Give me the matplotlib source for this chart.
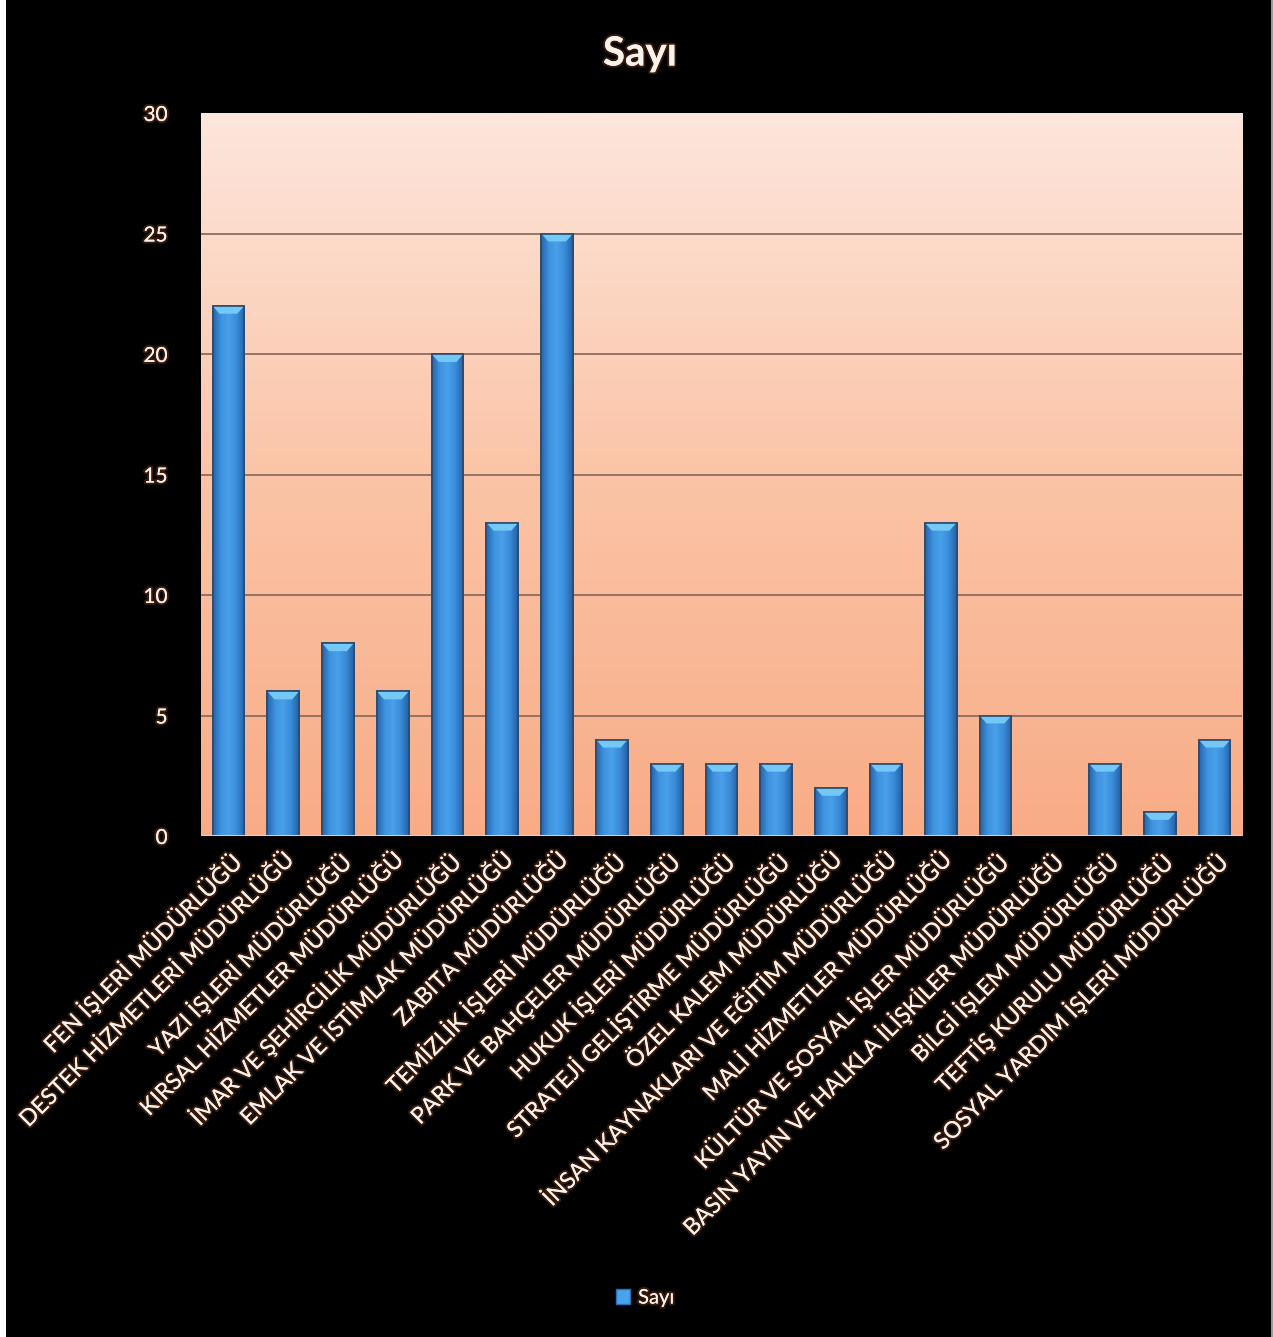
import matplotlib
matplotlib.use("Agg")
import matplotlib.pyplot as plt
import numpy as np
from matplotlib import patheffects as pe
from matplotlib.patches import Polygon, Rectangle
from matplotlib.colors import LinearSegmentedColormap

plt.rcParams['font.family'] = ['Lato', 'DejaVu Sans']

categories = [
    "FEN İŞLERİ MÜDÜRLÜĞÜ",
    "DESTEK HİZMETLERİ MÜDÜRLÜĞÜ",
    "YAZI İŞLERİ MÜDÜRLÜĞÜ",
    "KIRSAL HİZMETLER MÜDÜRLÜĞÜ",
    "İMAR VE ŞEHİRCİLİK MÜDÜRLÜĞÜ",
    "EMLAK VE İSTİMLAK MÜDÜRLÜĞÜ",
    "ZABITA MÜDÜRLÜĞÜ",
    "TEMİZLİK İŞLERİ MÜDÜRLÜĞÜ",
    "PARK VE BAHÇELER MÜDÜRLÜĞÜ",
    "HUKUK İŞLERİ MÜDÜRLÜĞÜ",
    "STRATEJİ GELİŞTİRME MÜDÜRLÜĞÜ",
    "ÖZEL KALEM MÜDÜRLÜĞÜ",
    "İNSAN KAYNAKLARI VE EĞİTİM MÜDÜRLÜĞÜ",
    "MALİ HİZMETLER MÜDÜRLÜĞÜ",
    "KÜLTÜR VE SOSYAL İŞLER MÜDÜRLÜĞÜ",
    "BASIN YAYIN VE HALKLA İLİŞKİLER MÜDÜRLÜĞÜ",
    "BİLGİ İŞLEM MÜDÜRLÜĞÜ",
    "TEFTİŞ KURULU MÜDÜRLÜĞÜ",
    "SOSYAL YARDIM İŞLERİ MÜDÜRLÜĞÜ",
]
sayi = [22, 6, 8, 6, 20, 13, 25, 4, 3, 3, 3, 2, 3, 13, 5, 0, 3, 1, 4]
y_ticks = [0, 5, 10, 15, 20, 25, 30]
series_name = "Sayı"

W, H = 1273, 1337
fig = plt.figure(figsize=(W / 100, H / 100), dpi=100, facecolor="black")

# thin white strip along the left edge, faint grey on the right edge
fig.patches.append(Rectangle((0, 0), 6 / W, 1, transform=fig.transFigure,
                             facecolor="white", edgecolor="none", zorder=-5))
fig.patches.append(Rectangle((1 - 2 / W, 0), 2 / W, 1, transform=fig.transFigure,
                             facecolor="#9a9a9a", edgecolor="none", zorder=-5))

ax = fig.add_axes([201 / W, 1 - 836 / H, (1242 - 201) / W, (836 - 113) / H])
ax.set_facecolor("none")

n = len(categories)
x = np.arange(n)
ax.set_xlim(-0.5, n - 0.5)
ax.set_ylim(0, 30)

# peach vertical gradient in the plot area
bg = LinearSegmentedColormap.from_list("bg", ["#f8ac86", "#fbc4a7", "#fde6dc"])
grad = np.linspace(0, 1, 256).reshape(-1, 1)
ax.imshow(grad, cmap=bg, origin="lower", aspect="auto",
          extent=(-0.5, n - 0.5, 0, 30), zorder=0)

for t in y_ticks[1:-1]:
    ax.axhline(t, color="#8c6d5e", lw=1.3, zorder=1)

glow = [pe.withStroke(linewidth=3, foreground="#3f1d0c", alpha=0.9), pe.Normal()]
txt_col = "#f8f2ee"

# bars with a horizontal blue shading and a light bevelled top
bw = 0.58
bar_cmap = LinearSegmentedColormap.from_list(
    "bar", ["#2566ad", "#3f93df", "#4aa0ea", "#3a8bd8", "#2562a8"])
hgrad = np.linspace(0, 1, 64).reshape(1, -1)
bars = ax.bar(x, sayi, width=bw, facecolor="#3d8fdc",
              edgecolor="#2b4a6e", linewidth=1.2, zorder=3)
cap_h = 0.33
for xi, v, b in zip(x, sayi, bars):
    if v <= 0:
        continue
    im = ax.imshow(hgrad, cmap=bar_cmap, aspect="auto",
                   extent=(xi - bw / 2, xi + bw / 2, 0, v), zorder=3.5)
    im.set_clip_path(b)
    inset = bw * 0.22
    cap = Polygon([(xi - bw / 2, v), (xi + bw / 2, v),
                   (xi + bw / 2 - inset, v - cap_h), (xi - bw / 2 + inset, v - cap_h)],
                  closed=True, facecolor="#74c8f5", edgecolor="none", zorder=4)
    ax.add_patch(cap)
    ax.add_patch(Rectangle((xi - bw / 2, 0), bw, v, facecolor="none",
                           edgecolor="#2b4a6e", linewidth=1.2, zorder=4.5))

for s in ax.spines.values():
    s.set_visible(False)
ax.axhline(0, color="#c9d3e3", lw=1.5, zorder=5)

ax.set_yticks(y_ticks)
ax.set_yticklabels([str(t) for t in y_ticks])
ax.set_xticks(x)
ax.set_xticklabels(categories, rotation=45, ha="right", va="top",
                   rotation_mode="anchor")
ax.tick_params(axis="y", length=0, pad=24, labelsize=15, labelcolor=txt_col)
ax.tick_params(axis="x", length=0, pad=9, labelsize=16.5, labelcolor=txt_col)
for lab in ax.get_xticklabels() + ax.get_yticklabels():
    lab.set_path_effects(glow)

fig.text(640 / W, 1 - 54 / H, series_name, ha="center", va="center",
         fontsize=29, fontweight="bold", color=txt_col, path_effects=glow)

leg = fig.legend([Rectangle((0, 0), 1, 1, facecolor="#4aa3ea", edgecolor="#2b6db5")],
                 [series_name], loc="center", bbox_to_anchor=(645 / W, 1 - 1298 / H),
                 frameon=False, fontsize=14.5, handlelength=0.7, handleheight=0.7,
                 handletextpad=0.4)
for t in leg.get_texts():
    t.set_color(txt_col)
    t.set_path_effects(glow)

fig.savefig("out.png", dpi=100, facecolor=fig.get_facecolor())
